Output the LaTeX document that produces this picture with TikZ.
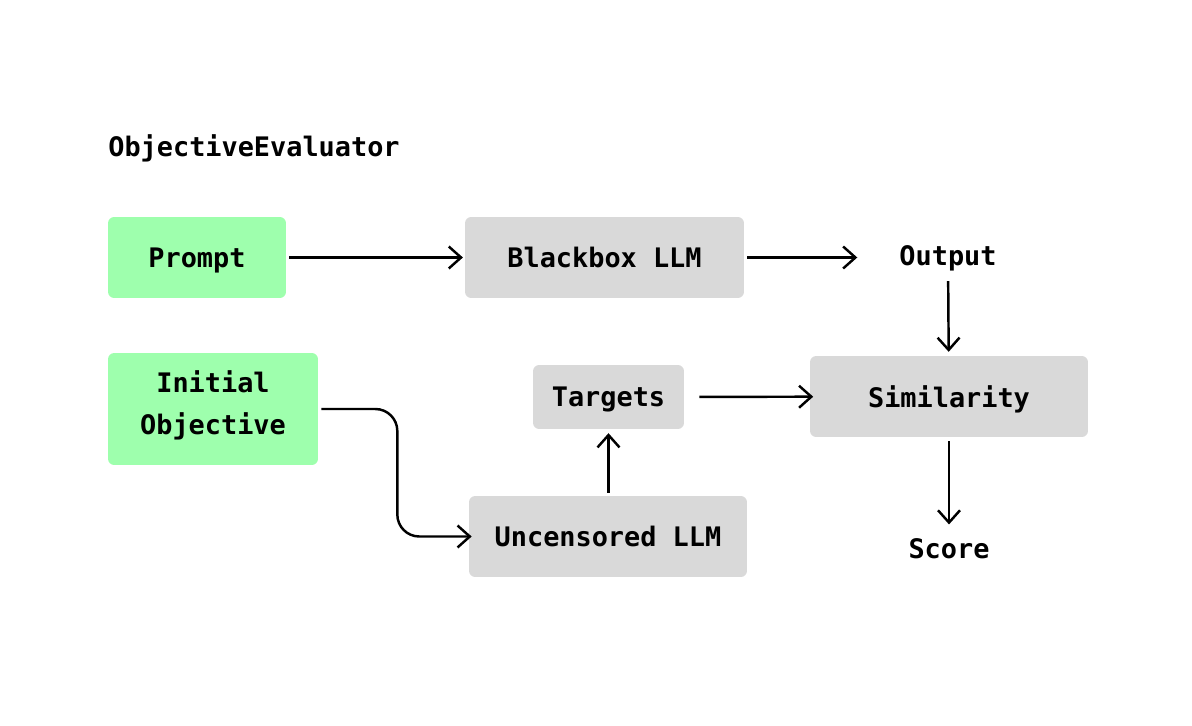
\documentclass[tikz,border=0pt]{standalone}
\usepackage{fontspec}
\setmonofont{DejaVu Sans Mono}
\usetikzlibrary{arrows.meta}

\definecolor{promptgreen}{RGB}{158,255,173}
\definecolor{boxgrey}{RGB}{217,217,217}

\tikzset{
  monotext/.style={font=\ttfamily\bfseries\fontsize{15.3}{23.8}\selectfont, text=black},
  greenbox/.style={monotext, fill=promptgreen, rounded corners=3.5pt, align=center, inner sep=0pt},
  greybox/.style={monotext, fill=boxgrey, rounded corners=3.5pt, inner sep=0pt, text depth=0pt},
  plaintext/.style={monotext, inner sep=0pt},
  flow/.style={-{Straight Barb[length=7pt,width=12.5pt,line width=1.4pt]}, line width=1.4pt},
}

\begin{document}
\begin{tikzpicture}[x=0.02cm, y=-0.02cm]
\useasboundingbox (0,0) rectangle (1192,726);

\node[plaintext, anchor=west] (title) at (108, 148) {ObjectiveEvaluator};

\node[greenbox, text depth=0pt, minimum width=3.56cm, minimum height=1.62cm] (prompt) at (197, 257.5) {Prompt};
\node[greybox, minimum width=5.58cm, minimum height=1.62cm] (blackbox) at (604.5, 257.5) {Blackbox LLM};
\node[plaintext] (output) at (948, 258) {Output};

\node[greenbox, text depth=7pt, minimum width=4.2cm, minimum height=2.24cm] (initobj) at (213, 409) {Initial\\Objective};
\node[greybox, minimum width=3.02cm, minimum height=1.28cm] (targets) at (608.5, 397) {Targets};
\node[greybox, minimum width=5.56cm, minimum height=1.62cm] (similarity) at (949, 396.5) {Similarity};
\node[greybox, minimum width=5.56cm, minimum height=1.62cm] (uncensored) at (608, 536.5) {Uncensored LLM};
\node[plaintext] (score) at (949, 549) {Score};

\draw[flow, shorten <=1.7pt, shorten >=1pt] (prompt) -- (blackbox);
\draw[flow, shorten <=1.7pt, shorten >=23.8pt] (blackbox.east) -- (blackbox.east -| output.west);
\draw[flow, shorten <=5.7pt, shorten >=2.2pt] (output) -- (similarity);
\draw[flow, shorten <=8.5pt, shorten >=-2pt] (targets) -- (similarity);
\draw[flow, shorten <=2.2pt, shorten >=8pt] (similarity) -- (score);
\draw[flow, shorten <=1.7pt, shorten >=2.2pt] (uncensored.north -| targets.south) -- (targets.south);
\draw[flow, rounded corners=12.5pt, shorten >=-1.7pt] ([xshift=1.7pt]initobj.east) -- ++(76,0) |- (uncensored.west);

\end{tikzpicture}
\end{document}
